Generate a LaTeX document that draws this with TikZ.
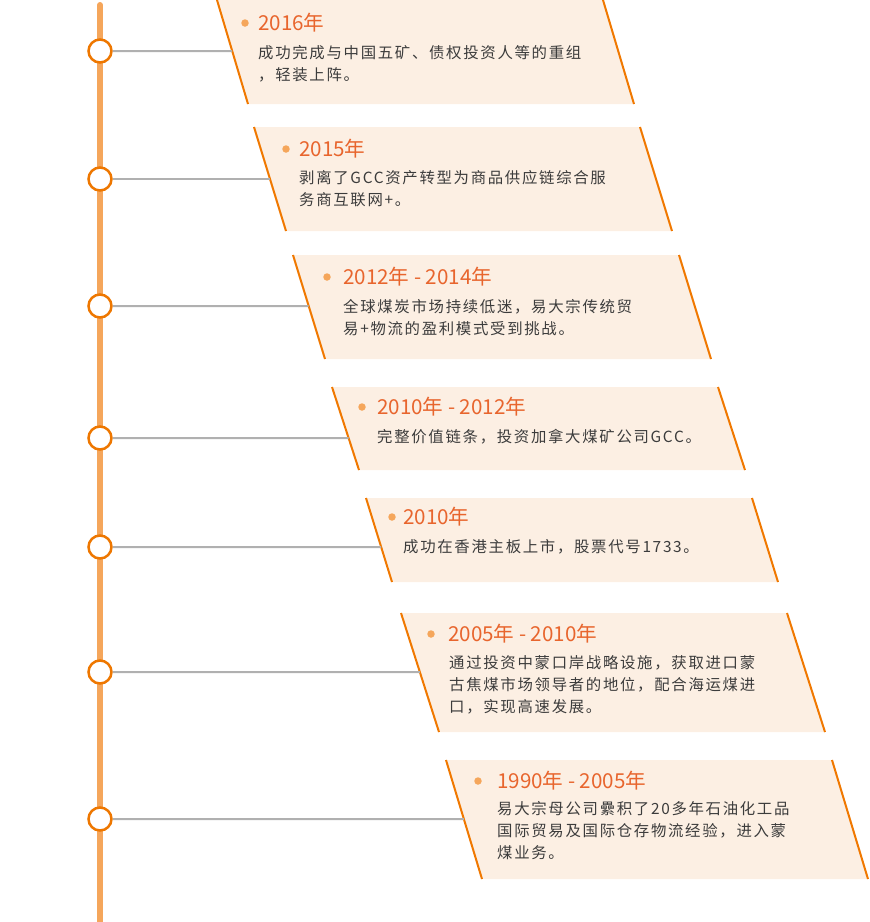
\documentclass[tikz,border=0pt]{standalone}
\usepackage{fontspec}
\setmainfont{Noto Sans CJK SC}
\newfontfamily\bodyfont[LetterSpace=11]{Noto Sans CJK SC}
\usetikzlibrary{calc}
\definecolor{spineC}{HTML}{F5A65B}
\definecolor{ringC}{HTML}{EE7700}
\definecolor{connC}{HTML}{B0B0B0}
\definecolor{panelC}{HTML}{FCEFE3}
\definecolor{edgeC}{HTML}{F07800}
\definecolor{bulC}{HTML}{F5A65B}
\definecolor{yrC}{HTML}{E8652D}
\definecolor{bodyC}{HTML}{3C3C3C}
\newcommand\panel[7]{% id, tlx, top, blx, bottom, width, ring y
  \coordinate (#1tl) at (#2,#3);
  \coordinate (#1bl) at (#4,#5);
  \coordinate (#1tr) at (#2+#6,#3);
  \coordinate (#1br) at (#4+#6,#5);
  \fill[panel] (#1tl) -- (#1tr) -- (#1br) -- (#1bl) -- cycle;
  \draw[edge] (#1tl) -- (#1bl);
  \draw[edge] (#1tr) -- (#1br);
  \coordinate (#1e) at ($(#1tl)!{(#7-#3)/(#5-#3)}!(#1bl)$);
  \node[ring] (#1c) at (100,#7) {};
  \draw[conn] (#1c) -- (#1e);
}
\begin{document}
\begin{tikzpicture}[x=1pt,y=-1pt,
  spine/.style={line width=6pt, draw=spineC, line cap=round},
  ring/.style={circle, draw=ringC, line width=2.5pt, fill=white, minimum size=23pt, inner sep=0pt},
  conn/.style={draw=connC, line width=2pt},
  panel/.style={fill=panelC},
  edge/.style={draw=edgeC, line width=2pt},
  bul/.style={circle, fill=bulC, minimum size=7.5pt, inner sep=0pt},
  yr/.style={anchor=base west, inner sep=0pt, text=yrC, font=\fontsize{20.6}{24}\selectfont},
  body/.style={anchor=base west, inner sep=0pt, text=bodyC, align=left, font=\bodyfont\fontsize{15.4}{22}\selectfont}]
\useasboundingbox (0,0) rectangle (870,922);
\coordinate (top) at (100,5);
\coordinate (bot) at (100,930);
\draw[spine] (top) -- (bot);

\panel{p1}{217}{0}{248}{104}{386}{51}
\panel{p2}{254}{127}{286}{231}{386}{179}
\panel{p3}{293}{255}{325}{359}{386}{306}
\panel{p4}{332}{387}{359}{470}{386}{438}
\panel{p5}{366}{498}{392}{582}{386}{547}
\panel{p6}{401}{613}{439}{732}{386}{672}
\panel{p7}{446}{760}{482}{879}{386}{819}

% multi-line body nodes: the base anchor is the baseline of the last line
\node[bul] (d1) at (245,23) {};
\node[yr] (y1) at (258,30.3) {2016年};
\node[body] (t1) at (258,80.5) {成功完成与中国五矿、债权投资人等的重组\\，轻装上阵。};

\node[bul] (d2) at (286,149) {};
\node[yr] (y2) at (299,156.3) {2015年};
\node[body] (t2) at (299,205.5) {剥离了GCC资产转型为商品供应链综合服\\务商互联网+。};

\node[bul] (d3) at (327,277) {};
\node[yr] (y3) at (343,284.3) {2012年 - 2014年};
\node[body] (t3) at (343,334.5) {全球煤炭市场持续低迷，易大宗传统贸\\易+物流的盈利模式受到挑战。};

\node[bul] (d4) at (362,407) {};
\node[yr] (y4) at (377,414.3) {2010年 - 2012年};
\node[body] (t4) at (377,442.5) {完整价值链条，投资加拿大煤矿公司GCC。};

\node[bul] (d5) at (392,517) {};
\node[yr] (y5) at (403,524.3) {2010年};
\node[body] (t5) at (403,552.5) {成功在香港主板上市，股票代号1733。};

\node[bul] (d6) at (431,634) {};
\node[yr] (y6) at (448,641.3) {2005年 - 2010年};
\node[body] (t6) at (449,712.5) {通过投资中蒙口岸战略设施，获取进口蒙\\古焦煤市场领导者的地位，配合海运煤进\\口，实现高速发展。};

\node[bul] (d7) at (478,781) {};
\node[yr] (y7) at (497,788.3) {1990年 - 2005年};
\node[body] (t7) at (497,858.5) {易大宗母公司纍积了20多年石油化工品\\国际贸易及国际仓存物流经验，进入蒙\\煤业务。};
\end{tikzpicture}
\end{document}
